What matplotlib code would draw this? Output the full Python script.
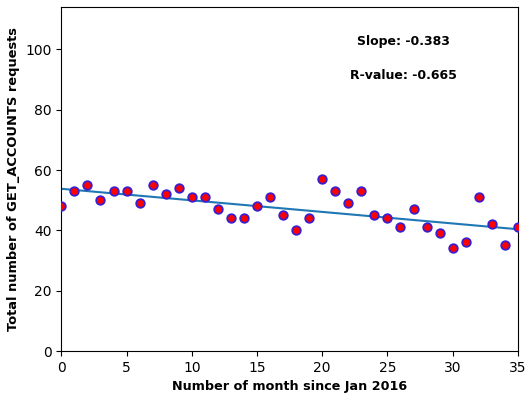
import numpy as np
from matplotlib import pyplot as plt

# monthly counts since Jan 2016
months = np.arange(36)
requests = [48, 53, 55, 50, 53, 53, 49, 55, 52, 54, 51, 51, 47, 44, 44, 48, 51, 45,
            40, 44, 57, 53, 49, 53, 45, 44, 41, 47, 41, 39, 34, 36, 51, 42, 35, 41]
slope_txt = "Slope: -0.383"
rvalue_txt = "R-value: -0.665"

fig, ax = plt.subplots(figsize=(5.29, 3.98), dpi=100)
fig.subplots_adjust(left=0.116, right=0.979, top=0.982, bottom=0.118)

# linear fit
coef = np.polyfit(months, requests, 1)
ax.plot(months, np.polyval(coef, months), color='#1f77b4', lw=1.5, zorder=2)
ax.scatter(months, requests, s=38, c='red', edgecolors='#3a1fd0', linewidths=1.3, zorder=3)

ax.text(26.2, 102.6, slope_txt, ha='center', va='center', fontweight='bold', fontsize=9)
ax.text(26.2, 91.4, rvalue_txt, ha='center', va='center', fontweight='bold', fontsize=9)

ax.set_xlim(0, 35)
ax.set_ylim(0, 114)
ax.set_xlabel("Number of month since Jan 2016", fontweight='bold', fontsize=9.2)
ax.set_ylabel("Total number of GET_ACCOUNTS requests", fontweight='bold', fontsize=9.4)
ax.tick_params(labelsize=10)

plt.savefig("out.png", dpi=100)
